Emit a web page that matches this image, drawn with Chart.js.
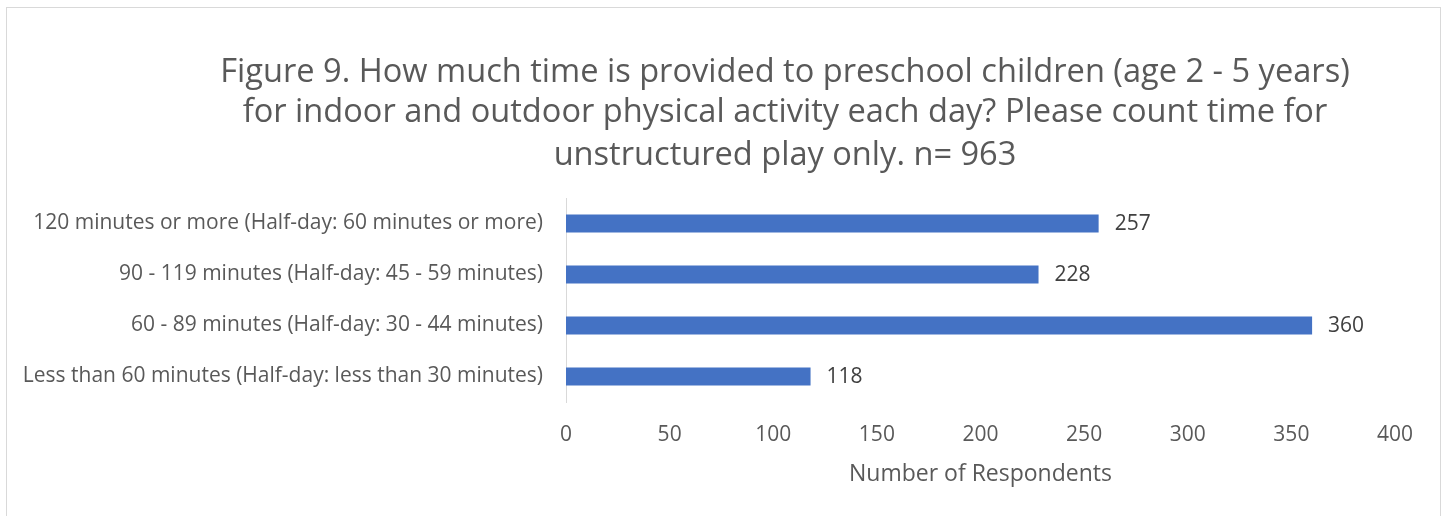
<!DOCTYPE html>
<html>
<head>
<meta charset="utf-8">
<script src="https://cdn.jsdelivr.net/npm/chart.js@4.4.1/dist/chart.umd.min.js"></script>
<style>
  html, body { margin: 0; padding: 0; background: #ffffff; overflow: hidden; }
  #wrap { position: relative; width: 1448px; height: 516px; }
  #frame { position: absolute; left: 6px; top: 7px; width: 1435px; height: 540px; border: 1px solid #d9d9d9; box-sizing: border-box; }
  canvas { position: absolute; left: 0; top: 0; }
</style>
</head>
<body>
<div id="wrap">
  <div id="frame"></div>
  <canvas id="c" width="1448" height="516"></canvas>
</div>
<script>
const titleLines = [
  "Figure 9. How much time is provided to preschool children (age 2 - 5 years)",
  "for indoor and outdoor physical activity each day? Please count time for",
  "unstructured play only. n= 963"
];
const categories = [
  "120 minutes or more (Half-day: 60 minutes or more)",
  "90 - 119 minutes (Half-day: 45 - 59 minutes)",
  "60 - 89 minutes (Half-day: 30 - 44 minutes)",
  "Less than 60 minutes (Half-day: less than 30 minutes)"
];
const respondents = [257, 228, 360, 118];
const xTicks = [0, 50, 100, 150, 200, 250, 300, 350, 400];
const xAxisTitle = "Number of Respondents";

const FONT = "'Open Sans', 'Noto Sans', sans-serif";
const TEXT = "#595959";

const titlePlugin = {
  id: 'customTitle',
  afterDraw(chart) {
    const ctx = chart.ctx;
    ctx.save();
    ctx.fillStyle = TEXT;
    ctx.font = "32.6px " + FONT;
    ctx.textAlign = 'center';
    ctx.textBaseline = 'middle';
    const ys = [73, 113, 156];
    titleLines.forEach((t, i) => ctx.fillText(t, 785, ys[i]));
    ctx.restore();
  }
};

const valueLabels = {
  id: 'valueLabels',
  afterDatasetsDraw(chart) {
    const ctx = chart.ctx;
    const meta = chart.getDatasetMeta(0);
    ctx.save();
    ctx.fillStyle = "#404040";
    ctx.font = "21px " + FONT;
    ctx.textAlign = 'left';
    ctx.textBaseline = 'middle';
    meta.data.forEach((bar, i) => {
      ctx.fillText(String(respondents[i]), bar.x + 16, bar.y + 1);
    });
    ctx.restore();
  }
};

new Chart(document.getElementById('c'), {
  type: 'bar',
  data: {
    labels: categories,
    datasets: [{
      data: respondents,
      backgroundColor: '#4472C4',
      borderWidth: 0,
      categoryPercentage: 1.0,
      barPercentage: 0.35
    }]
  },
  options: {
    indexAxis: 'y',
    responsive: false,
    animation: false,
    layout: { padding: { top: 198, right: 53, bottom: 0, left: 0 } },
    plugins: { legend: { display: false }, tooltip: { enabled: false }, title: { display: false } },
    scales: {
      x: {
        min: 0, max: 400,
        afterBuildTicks(scale) { scale.ticks = xTicks.map(v => ({ value: v })); },
        afterFit(scale) { scale.height = 114; },
        grid: { display: false, drawTicks: false },
        border: { display: false },
        ticks: { color: TEXT, font: { family: FONT, size: 21 }, padding: 20 },
        title: { display: true, text: xAxisTitle, color: TEXT, font: { family: FONT, size: 23 }, padding: { top: 0, bottom: 28 } }
      },
      y: {
        afterFit(scale) { scale.width = 566; },
        grid: { display: false, drawTicks: false },
        border: { display: true, color: '#d9d9d9', width: 1 },
        ticks: { color: TEXT, font: { family: FONT, size: 21 }, padding: 23 }
      }
    }
  },
  plugins: [titlePlugin, valueLabels]
});
</script>
</body>
</html>
